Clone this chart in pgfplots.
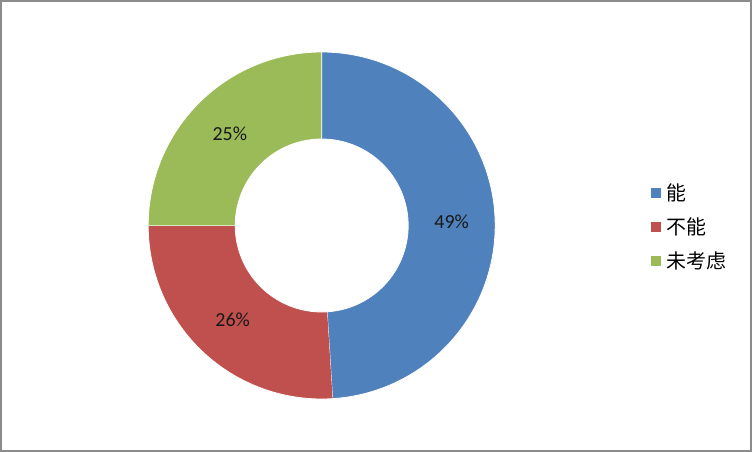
\documentclass[border=0pt]{standalone}
\usepackage{fontspec}
\setmainfont{Carlito}
\newfontfamily\cjk{Noto Sans CJK SC}
\usepackage{pgfplots}
\usepackage{pgfplotstable}
\pgfplotsset{compat=1.18}

\definecolor{pieblue}{HTML}{4F81BD}
\definecolor{piered}{HTML}{C0504D}
\definecolor{piegreen}{HTML}{9BBB59}
\definecolor{framegray}{HTML}{8C8C8C}

% shares in percent: 能, 不能, 未考虑
\pgfplotstableread{
value
49
26
25
}\piedata

% geometry in picture pixels (1 unit = 1bp)
\def\cx{321.7}
\def\cy{226.5}
\def\Ro{173.5}
\def\Ri{86.5}
\def\Rl{130}

% ring sector from angle #2 to #3 (outer arc, then inner arc back)
\newcommand\ringsector[3]{%
  \addplot[#1, samples at={0,1,...,201}]
    ({\cx+(x<100.5 ? \Ro : \Ri)*cos(x<100.5 ? (#2)+((#3)-(#2))*x/100 : (#3)-((#3)-(#2))*(x-101)/100)},
     {\cy+(x<100.5 ? \Ro : \Ri)*sin(x<100.5 ? (#2)+((#3)-(#2))*x/100 : (#3)-((#3)-(#2))*(x-101)/100)});
}

\begin{document}
\begin{tikzpicture}
  \pgfplotstablegetelem{0}{value}\of\piedata \let\vA\pgfplotsretval
  \pgfplotstablegetelem{1}{value}\of\piedata \let\vB\pgfplotsretval
  \pgfplotstablegetelem{2}{value}\of\piedata \let\vC\pgfplotsretval
  \pgfmathsetmacro\aA{90}
  \pgfmathsetmacro\bA{\aA-3.6*\vA}
  \pgfmathsetmacro\bB{\bA-3.6*\vB}
  \pgfmathsetmacro\bC{\bB-3.6*\vC}
  \pgfmathsetmacro\lxA{\cx+\Rl*cos((\aA+\bA)/2)}
  \pgfmathsetmacro\lyA{\cy+\Rl*sin((\aA+\bA)/2)}
  \pgfmathsetmacro\lxB{\cx+\Rl*cos((\bA+\bB)/2)}
  \pgfmathsetmacro\lyB{\cy+\Rl*sin((\bA+\bB)/2)}
  \pgfmathsetmacro\lxC{\cx+\Rl*cos((\bB+\bC)/2)}
  \pgfmathsetmacro\lyC{\cy+\Rl*sin((\bB+\bC)/2)}
  \useasboundingbox (0,0) rectangle (752bp,452bp);
  \begin{axis}[
      at={(0,0)}, anchor=south west,
      scale only axis,
      width=752bp, height=452bp,
      xmin=0, xmax=752, ymin=0, ymax=452,
      hide axis,
      clip=false,
      legend columns=1,
      legend cell align=left,
      legend image code/.code={\fill[#1, draw=none] (0bp,-5bp) rectangle (10bp,5bp);},
      legend style={draw=none, fill=none, inner sep=0pt,
        at={(axis cs:651,225)}, anchor=west,
        font=\cjk\fontsize{20}{24}\selectfont,
        row sep=12bp,
        nodes={inner xsep=5bp}},
    ]
    \ringsector{fill=pieblue, draw=white, line width=0.8bp}{\aA}{\bA}
    \ringsector{fill=piered, draw=white, line width=0.8bp}{\bA}{\bB}
    \ringsector{fill=piegreen, draw=white, line width=0.8bp}{\bB}{\bC}
    \legend{能, 不能, 未考虑}
    \node[font=\fontsize{20}{24}\selectfont, text=black!90] at (axis cs:\lxA,\lyA) {\vA\%};
    \node[font=\fontsize{20}{24}\selectfont, text=black!90] at (axis cs:\lxB,\lyB) {\vB\%};
    \node[font=\fontsize{20}{24}\selectfont, text=black!90] at (axis cs:\lxC,\lyC) {\vC\%};
    \draw[framegray, line width=2bp] (axis cs:1,1) rectangle (axis cs:751,451);
  \end{axis}
\end{tikzpicture}
\end{document}
